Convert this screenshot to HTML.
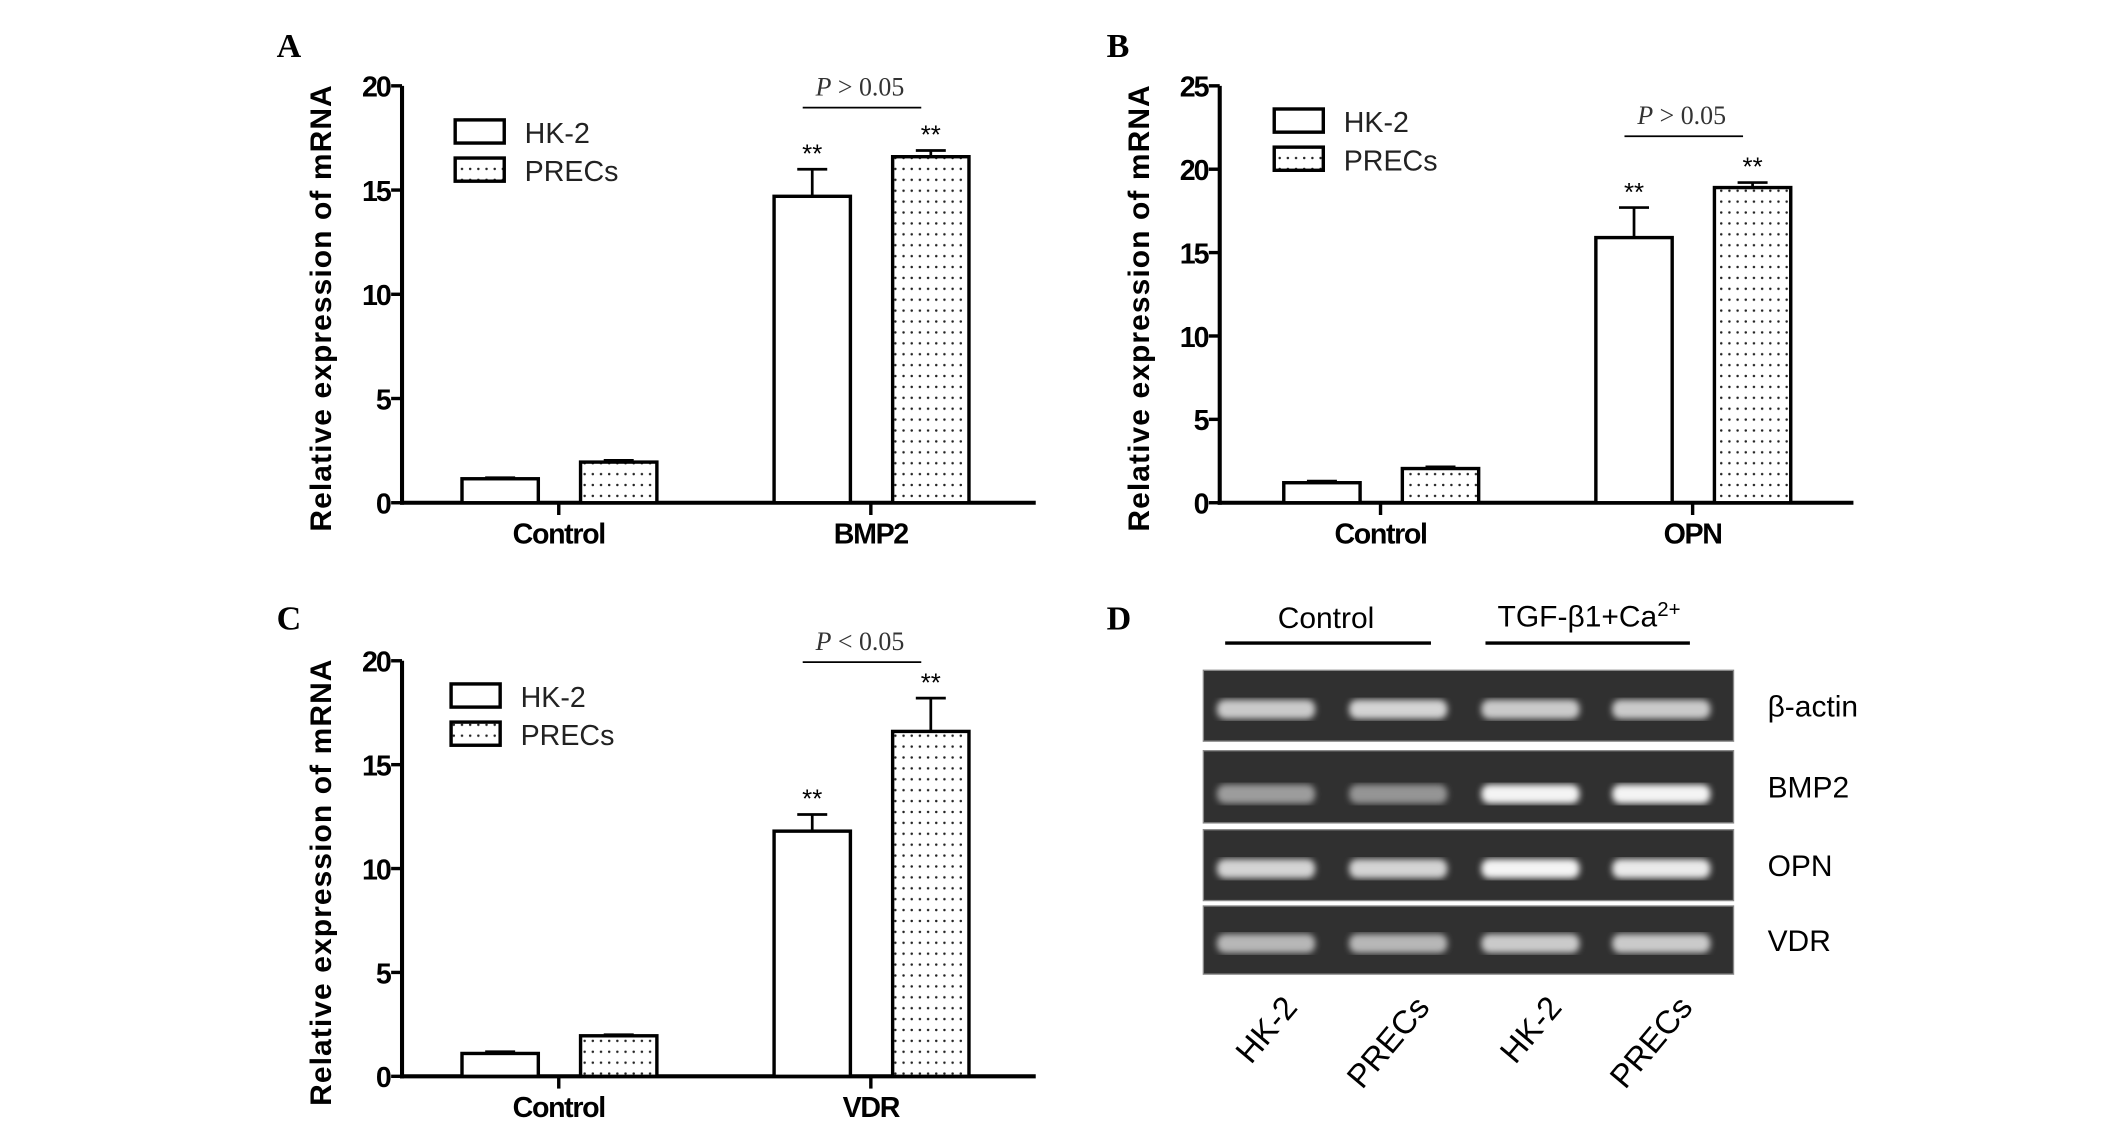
<!DOCTYPE html>
<html><head><meta charset="utf-8"><style>
html,body{margin:0;padding:0;background:#fff;}
svg{display:block;}
</style></head><body>
<svg id="fig" width="2126" height="1124" viewBox="0 0 1560 825" preserveAspectRatio="none" xmlns="http://www.w3.org/2000/svg" font-family="Liberation Sans, Arial, sans-serif">
<defs>
<pattern id="dots" width="6" height="8" patternUnits="userSpaceOnUse">
<rect width="6" height="8" fill="#fff"/><circle cx="3" cy="4" r="0.9" fill="#222"/>
</pattern>
<filter id="blur"><feGaussianBlur stdDeviation="2.4"/></filter>
</defs>
<g id="charts"></g>
<g id="gel"></g>
</svg>
<script>
// ---- data ----
const categoriesA = ["Control", "BMP2"];
const hk2A = [1.15, 14.7];
const hk2ErrA = [0.05, 1.3];
const precsA = [1.95, 16.6];
const precsErrA = [0.08, 0.3];
const ticksA = [0, 5, 10, 15, 20];

const categoriesB = ["Control", "OPN"];
const hk2B = [1.2, 15.9];
const hk2ErrB = [0.1, 1.8];
const precsB = [2.05, 18.9];
const precsErrB = [0.1, 0.3];
const ticksB = [0, 5, 10, 15, 20, 25];

const categoriesC = ["Control", "VDR"];
const hk2C = [1.1, 11.8];
const hk2ErrC = [0.08, 0.8];
const precsC = [1.95, 16.6];
const precsErrC = [0.05, 1.6];
const ticksC = [0, 5, 10, 15, 20];

const gelRows = ["β-actin", "BMP2", "OPN", "VDR"];
const gelLanes = ["HK-2", "PRECs", "HK-2", "PRECs"];
const gelIntensity = [[0.8,0.85,0.8,0.8],[0.55,0.5,1,1],[0.85,0.85,1,0.95],[0.7,0.7,0.8,0.8]];

const NS = "http://www.w3.org/2000/svg";
function mk(parent, tag, attrs, txt) {
  const e = document.createElementNS(NS, tag);
  for (const k in attrs) e.setAttribute(k, attrs[k]);
  if (txt !== undefined) e.textContent = txt;
  parent.appendChild(e);
  return e;
}
const SERIF = "Liberation Serif, serif";

function chart(opt) {
  const root = document.getElementById("charts");
  const g = mk(root, "g", {});
  
  
  const x0 = opt.x0, x1 = opt.x1, yTop = opt.yTop, yBot = opt.yBot;
  const maxV = opt.ticks[opt.ticks.length - 1];
  const y = v => yBot - (v / maxV) * (yBot - yTop);
  const lab = mk(g, "text", {x: opt.lx, y: opt.ly, "font-family": SERIF, "font-weight": "bold", "font-size": 25}, opt.letter);
  
  
  const ya = mk(g, "line", {x1: x0, y1: yTop, x2: x0, y2: yBot + 1.5, stroke: "#000", "stroke-width": 3});
  
  
  const xa = mk(g, "line", {x1: x0 - 1.5, y1: yBot, x2: x1, y2: yBot, stroke: "#000", "stroke-width": 3});
  
  
  opt.ticks.forEach(t => {
    const tl = mk(g, "line", {x1: x0 - 8, y1: y(t), x2: x0, y2: y(t), stroke: "#000", "stroke-width": 2.5});
    
    
    const tt = mk(g, "text", {x: x0 - 9, y: y(t) + 8, "text-anchor": "end", "font-size": 21, "font-weight": "bold", "letter-spacing": "-1.5"}, t);
    
    
  });
  const yt = mk(g, "text", {x: 0, y: 0, transform: `translate(${x0 - 52},${(yTop + yBot) / 2 + 10}) rotate(-90)`, "text-anchor": "middle", "font-size": 22, "font-weight": "bold", "letter-spacing": "0.8"}, "Relative expression of mRNA");
  
  
  const bw = 56;
  opt.cats.forEach((c, i) => {
    const cx = opt.catX[i];
    const ct = mk(g, "line", {x1: cx, y1: yBot, x2: cx, y2: yBot + 9, stroke: "#000", "stroke-width": 2.5});
    
    
    const cl = mk(g, "text", {x: cx, y: yBot + 30, "text-anchor": "middle", "font-size": 21, "font-weight": "bold", "letter-spacing": "-1"}, c);
    
    
    [[opt.hk2, opt.hk2Err, -1, "#fff", "hk2"], [opt.precs, opt.precsErr, 1, "url(#dots)", "precs"]].forEach(s => {
      const v = s[0][i], e = s[1][i];
      const bx = s[2] < 0 ? cx - 71 : cx + 16;
      const ex = bx + bw / 2;
      const el = mk(g, "line", {x1: ex, y1: y(v), x2: ex, y2: y(v + e), stroke: "#000", "stroke-width": 2});
      
      
      const ec = mk(g, "line", {x1: ex - 11, y1: y(v + e), x2: ex + 11, y2: y(v + e), stroke: "#000", "stroke-width": 2});
      
      
      const r = mk(g, "rect", {x: bx, y: y(v), width: bw, height: yBot - y(v), fill: s[3], stroke: "#000", "stroke-width": 2.5});
      
      
      if (i === 1) {
        const st = mk(g, "text", {x: ex, y: y(v + e) - 5, "text-anchor": "middle", "font-size": 19}, "**");
        
        
      }
    });
  });
  const pl = mk(g, "line", {x1: opt.catX[1] - 50, y1: opt.pLineY, x2: opt.catX[1] + 37, y2: opt.pLineY, stroke: "#000", "stroke-width": 1.3});
  
  
  const pt = mk(g, "text", {x: opt.catX[1] - 8, y: opt.pLineY - 9, "text-anchor": "middle", "font-family": SERIF, "font-size": 19, fill: "#333"});
  
  
  mk(pt, "tspan", {"font-style": "italic"}, "P");
  mk(pt, "tspan", {}, " " + opt.pText);
  const lg = mk(g, "g", {});
  
  
  [["HK-2", "#fff"], ["PRECs", "url(#dots)"]].forEach((L, k) => {
    const ly = opt.legY + k * 28;
    const lr = mk(lg, "rect", {x: opt.legX, y: ly, width: 36, height: 17, fill: L[1], stroke: "#000", "stroke-width": 2.5});
    
    
    const lt = mk(lg, "text", {x: opt.legX + 51, y: ly + 17, "font-size": 21, fill: "#222"}, L[0]);
    
    
  });
}

chart({letter: "A", lx: 203, ly: 42, x0: 295, x1: 760, yTop: 63, yBot: 369, ticks: ticksA, cats: categoriesA, catX: [410, 639],
  hk2: hk2A, hk2Err: hk2ErrA, precs: precsA, precsErr: precsErrA, pText: "> 0.05", pLineY: 79, legX: 334, legY: 88});
chart({letter: "B", lx: 812, ly: 42, x0: 895, x1: 1360, yTop: 63, yBot: 369, ticks: ticksB, cats: categoriesB, catX: [1013, 1242],
  hk2: hk2B, hk2Err: hk2ErrB, precs: precsB, precsErr: precsErrB, pText: "> 0.05", pLineY: 100, legX: 935, legY: 80});
chart({letter: "C", lx: 203, ly: 462, x0: 295, x1: 760, yTop: 485, yBot: 790, ticks: ticksC, cats: categoriesC, catX: [410, 639],
  hk2: hk2C, hk2Err: hk2ErrC, precs: precsC, precsErr: precsErrC, pText: "< 0.05", pLineY: 486, legX: 331, legY: 502});

(function () {
  const g = document.getElementById("gel");
  const d = mk(g, "text", {x: 812, y: 462, "font-family": SERIF, "font-weight": "bold", "font-size": 25}, "D");
  
  
  const c1 = mk(g, "text", {x: 973, y: 461, "text-anchor": "middle", "font-size": 22}, "Control");
  
  
  const l1 = mk(g, "line", {x1: 899, y1: 472, x2: 1050, y2: 472, stroke: "#000", "stroke-width": 2.5});
  
  
  const c2 = mk(g, "text", {x: 1166, y: 460, "text-anchor": "middle", "font-size": 22});
  
  
  mk(c2, "tspan", {}, "TGF-β1+Ca");
  mk(c2, "tspan", {dy: -8, "font-size": 15}, "2+");
  const l2 = mk(g, "line", {x1: 1090, y1: 472, x2: 1240, y2: 472, stroke: "#000", "stroke-width": 2.5});
  
  
  const rowsY = [[492, 544], [551, 604], [609, 661], [665, 715]];
  const laneX = [929, 1026, 1123, 1219];
  gelRows.forEach((name, r) => {
    const [t, b] = rowsY[r];
    const box = mk(g, "rect", {x: 883, y: t, width: 389, height: b - t, fill: "#303030", stroke: "#888", "stroke-width": 1});
    
    
    const bandY = t + (b - t) * (r === 1 ? 0.6 : 0.55);
    gelLanes.forEach((lane, i) => {
      const a = gelIntensity[r][i];
      const c = Math.round(150 + 105 * a);
      const band = mk(g, "rect", {x: laneX[i] - 36, y: bandY - 7, width: 72, height: 14, rx: 6, fill: "rgb(" + c + "," + c + "," + c + ")", opacity: 0.35 + 0.6 * a, filter: "url(#blur)"});
      
      
    });
    const rl = mk(g, "text", {x: 1297, y: (t + b) / 2 + 8, "font-size": 22}, name);
    
    
  });
  gelLanes.forEach((lane, i) => {
    const lt = mk(g, "text", {x: 0, y: 0, transform: `translate(${laneX[i] + 24},${740}) rotate(-50)`, "text-anchor": "end", "font-size": 24}, lane);
    
    
  });
})();
</script>
</body></html>
